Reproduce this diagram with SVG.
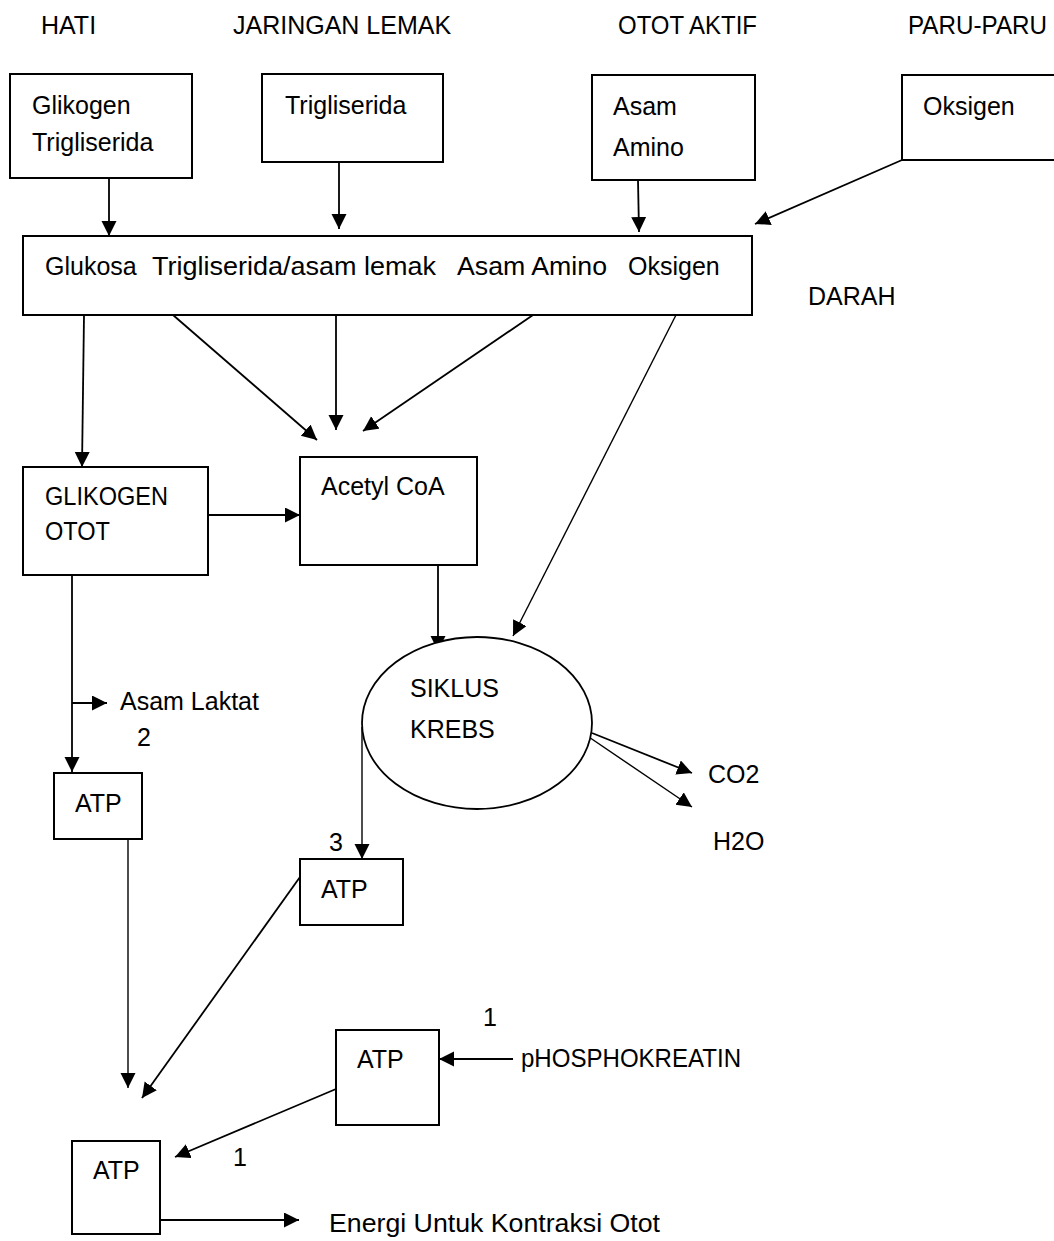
<svg xmlns="http://www.w3.org/2000/svg" width="1054" height="1241" viewBox="0 0 1054 1241">
<style>
text{font-family:"Liberation Sans",Arial,sans-serif;font-size:25px;fill:#000}
.box{fill:#fff;stroke:#000;stroke-width:2}
.ln{fill:none;stroke:#000;stroke-width:1.8}
.thin{fill:none;stroke:#000;stroke-width:1.4}
</style>
<defs>
<marker id="ah" markerUnits="userSpaceOnUse" markerWidth="16" markerHeight="16" refX="15" refY="7.5" orient="auto">
<path d="M0,0 L15,7.5 L0,15 z" fill="#000"/>
</marker>
</defs>
<rect width="1054" height="1241" fill="#fff"/>

<g id="labels">
<text x="41" y="34">HATI</text>
<text x="233" y="34">JARINGAN LEMAK</text>
<text x="618" y="34" textLength="139" lengthAdjust="spacingAndGlyphs">OTOT AKTIF</text>
<text x="908" y="34" textLength="139" lengthAdjust="spacingAndGlyphs">PARU-PARU</text>
<text x="808" y="305">DARAH</text>
</g>

<g id="connectors">
<line class="ln" x1="109" y1="178" x2="109" y2="236" marker-end="url(#ah)"/>
<line class="ln" x1="339" y1="162" x2="339" y2="229" marker-end="url(#ah)"/>
<line class="ln" x1="638" y1="180" x2="639" y2="232" marker-end="url(#ah)"/>
<line class="ln" x1="902" y1="160" x2="755" y2="224" marker-end="url(#ah)"/>
<line class="ln" x1="84" y1="315" x2="82" y2="467" marker-end="url(#ah)"/>
<line class="ln" x1="173" y1="315" x2="317" y2="440" marker-end="url(#ah)"/>
<line class="ln" x1="336" y1="315" x2="336" y2="430" marker-end="url(#ah)"/>
<line class="ln" x1="533" y1="315" x2="363" y2="431" marker-end="url(#ah)"/>
<line class="thin" x1="676" y1="315" x2="513" y2="636" marker-end="url(#ah)"/>
<line class="ln" x1="208" y1="515" x2="300" y2="515" marker-end="url(#ah)"/>
<line class="ln" x1="72" y1="575" x2="72" y2="772" marker-end="url(#ah)"/>
<line class="ln" x1="72" y1="703" x2="107" y2="703" marker-end="url(#ah)"/>
<line class="ln" x1="438" y1="565" x2="438" y2="651" marker-end="url(#ah)"/>
<line class="thin" x1="362" y1="727" x2="362" y2="859" marker-end="url(#ah)"/>
<line class="ln" x1="592" y1="733" x2="692" y2="773" marker-end="url(#ah)"/>
<line class="thin" x1="580" y1="731" x2="692" y2="807" marker-end="url(#ah)"/>
<line class="thin" x1="128" y1="839" x2="128" y2="1088" marker-end="url(#ah)"/>
<line class="ln" x1="300" y1="877" x2="142" y2="1098" marker-end="url(#ah)"/>
<line class="ln" x1="513" y1="1059" x2="439" y2="1059" marker-end="url(#ah)"/>
<line class="ln" x1="336" y1="1089" x2="175" y2="1157" marker-end="url(#ah)"/>
<line class="ln" x1="160" y1="1220" x2="299" y2="1220" marker-end="url(#ah)"/>
</g>

<g id="hati">
<rect class="box" x="10" y="74" width="182" height="104"/>
<text x="32" y="114">Glikogen</text>
<text x="32" y="151">Trigliserida</text>
</g>
<g id="jaringan-lemak">
<rect class="box" x="262" y="74" width="181" height="88"/>
<text x="285" y="114">Trigliserida</text>
</g>
<g id="otot-aktif">
<rect class="box" x="592" y="75" width="163" height="105"/>
<text x="613" y="115">Asam</text>
<text x="613" y="156">Amino</text>
</g>
<g id="paru-paru">
<rect class="box" x="902" y="75" width="170" height="85"/>
<text x="923" y="115">Oksigen</text>
</g>
<g id="darah">
<rect class="box" x="23" y="236" width="729" height="79"/>
<text y="275"><tspan x="45">Glukosa</tspan><tspan x="152" textLength="284" lengthAdjust="spacingAndGlyphs">Trigliserida/asam lemak</tspan><tspan x="457" textLength="150" lengthAdjust="spacingAndGlyphs">Asam Amino</tspan><tspan x="628">Oksigen</tspan></text>
</g>
<g id="glikogen-otot">
<rect class="box" x="23" y="467" width="185" height="108"/>
<text x="45" y="505" textLength="123" lengthAdjust="spacingAndGlyphs">GLIKOGEN</text>
<text x="45" y="540" textLength="65" lengthAdjust="spacingAndGlyphs">OTOT</text>
</g>
<g id="acetyl-coa">
<rect class="box" x="300" y="457" width="177" height="108"/>
<text x="321" y="495">Acetyl CoA</text>
</g>
<g id="asam-laktat">
<text x="120" y="710">Asam Laktat</text>
<text x="137" y="746">2</text>
</g>
<g id="siklus-krebs">
<ellipse fill="#fff" stroke="#000" stroke-width="1.8" cx="477" cy="723" rx="115" ry="86"/>
<text x="410" y="697">SIKLUS</text>
<text x="410" y="738">KREBS</text>
</g>
<g id="co2"><text x="708" y="783">CO2</text></g>
<g id="h2o"><text x="713" y="850">H2O</text></g>
<g id="atp-2">
<rect class="box" x="54" y="773" width="88" height="66"/>
<text x="75" y="812">ATP</text>
</g>
<g id="atp-3">
<text x="329" y="851">3</text>
<rect class="box" x="300" y="859" width="103" height="66"/>
<text x="321" y="898">ATP</text>
</g>
<g id="atp-1">
<text x="483" y="1026">1</text>
<rect class="box" x="336" y="1030" width="103" height="95"/>
<text x="357" y="1068">ATP</text>
</g>
<g id="phosphokreatin">
<text x="521" y="1067" textLength="220" lengthAdjust="spacingAndGlyphs">pHOSPHOKREATIN</text>
</g>
<g id="atp-final">
<text x="233" y="1166">1</text>
<rect class="box" x="72" y="1141" width="88" height="93"/>
<text x="93" y="1179">ATP</text>
</g>
<g id="energi">
<text x="329" y="1232" textLength="331" lengthAdjust="spacingAndGlyphs">Energi Untuk Kontraksi Otot</text>
</g>
</svg>
